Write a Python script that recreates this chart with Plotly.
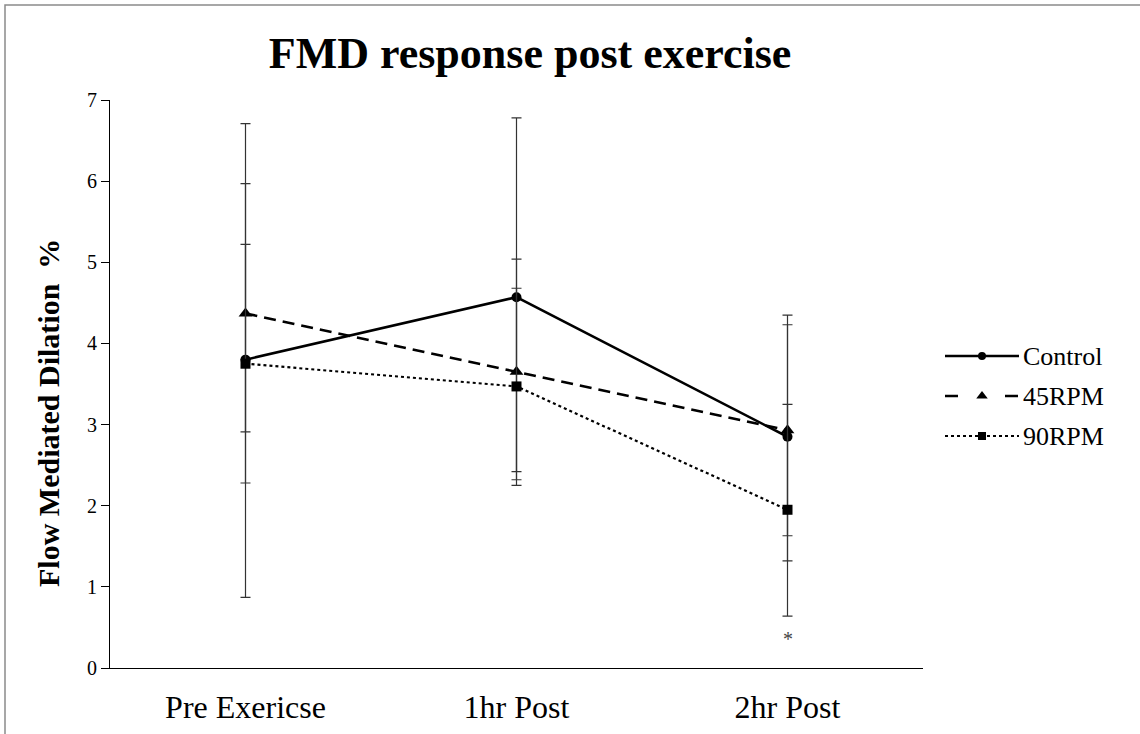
import plotly.graph_objects as go

categories = ["Pre Exericse", "1hr Post", "2hr Post"]

control_mean = [3.80, 4.57, 2.85]
control_plus = [2.91, 2.21, 1.50]
control_minus = [2.93, 2.15, 1.53]

rpm45_mean = [4.37, 3.65, 2.93]
rpm45_plus = [1.60, 1.39, 1.30]
rpm45_minus = [1.46, 1.33, 1.30]

rpm90_mean = [3.75, 3.47, 1.95]
rpm90_plus = [1.47, 1.21, 1.30]
rpm90_minus = [1.47, 1.22, 1.31]

y_ticks = [0, 1, 2, 3, 4, 5, 6, 7]

FONT = "Liberation Serif, Times New Roman, serif"

# name, mean, +err, -err, dash, legend dash, symbol, size, width
series = [
    ("Control", control_mean, control_plus, control_minus, "solid", "solid", "circle", 10, 2.6),
    ("45RPM", rpm45_mean, rpm45_plus, rpm45_minus, "12px,7px", "13px,47px", "triangle-up", 12, 2.6),
    ("90RPM", rpm90_mean, rpm90_plus, rpm90_minus, "dot", "dot", "square", 10, 2.2),
]

# page geometry (px)
PAGE_W, PAGE_H = 1140, 734
L, R, T, B = 110, 10, 100, 66
PW = PAGE_W - L - R
PH = PAGE_H - T - B
PLOT_RIGHT = 923
LEG_X0, LEG_X1 = 945, 1130
LEG_SYM = 74
LEG_ROWS = [356, 396, 436]

def px_x(px):
    return (px - L) / PW

def px_y(py):
    return (PAGE_H - B - py) / PH

fig = go.Figure()
for name, m, p, n, dash, ldash, sym, ms, lw in series:
    fig.add_trace(go.Scatter(
        x=categories, y=m, name=name, mode="lines+markers", showlegend=False,
        line=dict(color="black", width=lw, dash=dash),
        marker=dict(symbol=sym, size=ms, color="black"),
        error_y=dict(type="data", symmetric=False, array=p, arrayminus=n,
                     color="#333333", thickness=1.2, width=5),
        xaxis="x", yaxis="y",
    ))

# hand-drawn legend on its own hidden axes (units: px)
for i, (name, m, p, n, dash, ldash, sym, ms, lw) in enumerate(series):
    yrow = LEG_ROWS[i]
    fig.add_trace(go.Scatter(
        x=[0, LEG_SYM], y=[yrow, yrow], mode="lines", showlegend=False,
        line=dict(color="black", width=lw, dash=ldash),
        xaxis="x2", yaxis="y2", hoverinfo="skip",
    ))
    fig.add_trace(go.Scatter(
        x=[LEG_SYM / 2], y=[yrow], mode="markers", showlegend=False,
        marker=dict(symbol=sym, size=ms - 2, color="black"),
        xaxis="x2", yaxis="y2", hoverinfo="skip",
    ))
    fig.add_annotation(x=LEG_SYM + 2, y=yrow, xref="x2", yref="y2", text=name,
                       showarrow=False, xanchor="left", yanchor="middle",
                       font=dict(family=FONT, size=26, color="black"))

fig.add_annotation(x="2hr Post", y=0.36, text="*", showarrow=False,
                   xref="x", yref="y",
                   font=dict(family=FONT, size=20, color="#444444"))

# y-axis title as rotated text
fig.add_annotation(x=px_x(48), y=px_y(413), xref="paper", yref="paper",
                   text="<b>Flow Mediated Dilation  %</b>", textangle=-90,
                   showarrow=False, xanchor="center", yanchor="middle",
                   font=dict(family=FONT, size=30, color="black"))

# frame around the figure
fig.add_shape(type="rect", xref="paper", yref="paper",
              x0=px_x(5), x1=px_x(1150), y0=px_y(745), y1=px_y(5),
              line=dict(color="#8a8a8a", width=1.5))

leg_top, leg_bot = 300, 490
fig.update_layout(
    width=PAGE_W, height=PAGE_H,
    margin=dict(l=L, r=R, t=T, b=B, autoexpand=False),
    paper_bgcolor="white", plot_bgcolor="white",
    font=dict(family=FONT, color="black"),
    title=dict(text="<b>FMD response post exercise</b>", x=0.465, xanchor="center",
               y=0.929, yanchor="middle",
               font=dict(family=FONT, size=44, color="black")),
    showlegend=False,
    xaxis=dict(
        domain=[0, px_x(PLOT_RIGHT)], automargin=False,
        type="category", range=[-0.5, 2.5], showgrid=False,
        showline=True, linecolor="black", linewidth=1.2,
        ticks="", tickfont=dict(family=FONT, size=32, color="black"),
        ticklabelstandoff=10,
    ),
    yaxis=dict(
        range=[0, 7], tickvals=y_ticks, showgrid=False, zeroline=False,
        showline=True, linecolor="black", linewidth=1.2, automargin=False,
        ticks="outside", ticklen=8, tickcolor="black",
        tickfont=dict(family=FONT, size=20, color="black"),
    ),
    xaxis2=dict(domain=[px_x(LEG_X0), px_x(LEG_X1)], range=[0, LEG_X1 - LEG_X0],
                visible=False, fixedrange=True, anchor="y2"),
    yaxis2=dict(domain=[px_y(leg_bot), px_y(leg_top)], range=[leg_bot, leg_top],
                visible=False, fixedrange=True, anchor="x2"),
)

fig.write_html("out.html")
